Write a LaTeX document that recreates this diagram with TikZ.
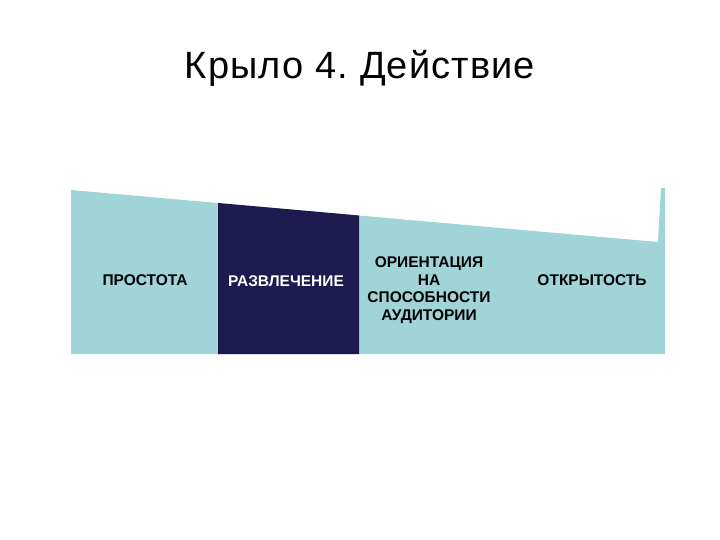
\documentclass[tikz,border=0pt]{standalone}
\usepackage{fontspec}
\setmainfont{Liberation Sans}
\definecolor{wingteal}{HTML}{A0D4D8}
\definecolor{wingnavy}{HTML}{1C1A4E}
\frenchspacing
\begin{document}
\begin{tikzpicture}[x=1pt,y=-1pt,
  lbl/.style={font=\bfseries\fontsize{15.5}{17.5}\selectfont, align=center}]
\useasboundingbox (0,0) rectangle (720,540);
\fill[wingteal] (71,190) -- (658,242) -- (661,188) -- (665,188) -- (665,354) -- (71,354) -- cycle;
\fill[wingnavy] (218,203) -- (359,215.5) -- (359,354) -- (218,354) -- cycle;
\node[anchor=base] (title) at (360,79) {\fontsize{38}{44}\selectfont\addfontfeature{LetterSpace=3}Крыло 4. Действие};
\node[lbl] (simple) at (145,280) {ПРОСТОТА};
\node[lbl,text=white] (fun) at (286,281) {РАЗВЛЕЧЕНИЕ};
\node[lbl] (audience) at (429,290) {ОРИЕНТАЦИЯ\\НА\\СПОСОБНОСТИ\\АУДИТОРИИ};
\node[lbl] (open) at (592,280) {ОТКРЫТОСТЬ};
\end{tikzpicture}
\end{document}
